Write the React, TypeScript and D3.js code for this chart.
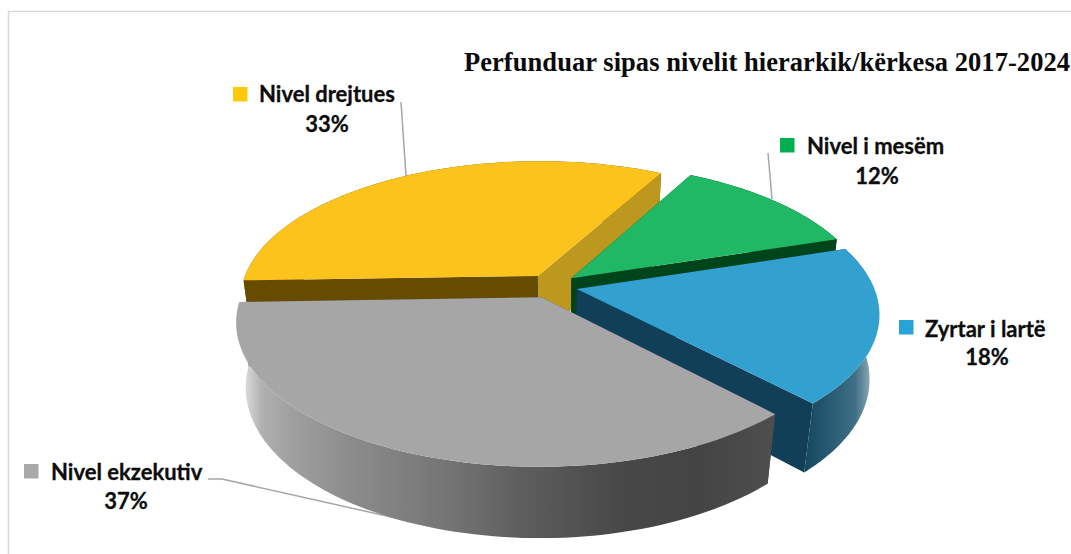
import React from "react";
import * as d3 from "d3";

const W = 1071;
const H = 554;

const categories = ["Nivel drejtues", "Nivel i mesëm", "Zyrtar i lartë", "Nivel ekzekutiv"];
const shares = [33.4, 12.2, 17.9, 36.5];
const topColors = ["#fcc31d", "#20b864", "#32a1cf", "#a6a6a6"];
const swatchColors = ["#ffc90b", "#00b050", "#27a3d8", "#a9a9a9"];
const cutColors = ["#664b00", "#00441c", "#103f57", "#4a4a4a"];
const sideCutColors = ["#bc981f", "#00441c", "#103f57", "#4a4a4a"];
const title = "Perfunduar sipas nivelit hierarkik/kërkesa 2017-2024";

// camera
const CX = 551.5, CY = 286, R = 296.5, RY = 137, KV = 0.167, KH = 0.03, DEPTH = 66, EXPLODE = 0.088;
const START = (268.1 * Math.PI) / 180;

type Pt = [number, number];
function project(u: number, v: number, h: number): Pt {
  const w = 1 - KV * v + KH * h;
  return [CX + (R * u) / w, CY + (RY * v + DEPTH * h) / w];
}

const slices = d3
  .pie<number>()
  .sort(null)
  .startAngle(START)
  .endAngle(START + 2 * Math.PI)(shares);

const line = d3.line<Pt>();

function sliceGeom(a0: number, a1: number) {
  const mid = (a0 + a1) / 2;
  const ou = EXPLODE * Math.sin(mid);
  const ov = -EXPLODE * Math.cos(mid);
  const rim = (a: number, h: number) => project(ou + Math.sin(a), ov - Math.cos(a), h);
  const apex = (h: number) => project(ou, ov, h);
  const angs = d3.range(0, 81).map((i) => a0 + ((a1 - a0) * i) / 80);
  const top = line([apex(0), ...angs.map((a) => rim(a, 0))])! + "Z";
  const outer =
    line([...angs.map((a) => rim(a, 0)), ...angs.slice().reverse().map((a) => rim(a, 1))])! + "Z";
  const cut = (a: number) => line([apex(0), rim(a, 0), rim(a, 1), apex(1)])! + "Z";
  return { top, outer, cutStart: cut(a0), cutEnd: cut(a1), back: Math.cos(mid) > 0 };
}

const geoms = slices.map((s) => sliceGeom(s.startAngle, s.endAngle));

type Stop = [number, string];
const grayWall: Stop[] = [
  [236, "#ffffff"],
  [246, "#d8d8d8"],
  [262, "#b0b0b0"],
  [290, "#a0a0a0"],
  [350, "#8c8c8c"],
  [450, "#747474"],
  [520, "#5e5e5e"],
  [620, "#484848"],
  [700, "#444444"],
  [772, "#4e4e4e"],
];
const blueWall: Stop[] = [
  [804, "#14475f"],
  [830, "#285a72"],
  [855, "#3f6f86"],
  [868, "#7f9fae"],
  [878, "#ffffff"],
];
const yellowWall: Stop[] = [[240, "#664b00"], [700, "#664b00"]];
const greenWall: Stop[] = [[690, "#00441c"], [840, "#00441c"]];
const wallStops = [yellowWall, greenWall, blueWall, grayWall];

const labelFont = "Lato, Carlito, sans-serif";

const swatches = [
  { x: 233, y: 87 },
  { x: 780, y: 138 },
  { x: 899, y: 320 },
  { x: 24, y: 464 },
];
const nameAnchors = [
  { x: 259, y: 101.5 },
  { x: 807, y: 153.5 },
  { x: 925, y: 336.5 },
  { x: 51, y: 479.5 },
];
const pctAnchors = [
  { x: 327, y: 132 },
  { x: 877, y: 184 },
  { x: 987, y: 365 },
  { x: 126, y: 509 },
];
const leaders: Pt[][] = [
  [[401, 102], [406, 176]],
  [[768, 153], [772, 199]],
  [],
  [[208, 479], [222, 479], [400, 519]],
];

export default function App() {
  return (
    <svg
      width={W}
      height={H}
      viewBox={`0 0 ${W} ${H}`}
      style={{ position: "absolute", left: 0, top: 0, background: "#fff" }}
    >
      <defs>
        {wallStops.map((stops, i) => {
          const x0 = stops[0][0];
          const x1 = stops[stops.length - 1][0];
          return (
            <linearGradient
              key={i}
              id={`wall${i}`}
              gradientUnits="userSpaceOnUse"
              x1={x0}
              x2={x1}
              y1={0}
              y2={0}
            >
              {stops.map((s, j) => (
                <stop key={j} offset={(s[0] - x0) / (x1 - x0)} stopColor={s[1]} />
              ))}
            </linearGradient>
          );
        })}
      </defs>
      <path d="M8 11.5H1071M8.5 11V554" fill="none" stroke="#d9d9d9" strokeWidth={1.5} />

      {leaders.map((l, i) =>
        l.length ? (
          <path key={i} d={line(l)!} fill="none" stroke="#a6a6a6" strokeWidth={1.5} />
        ) : null
      )}

      {geoms.map((g, i) => (
        <g key={i}>
          {g.back && <path d={g.outer} fill={`url(#wall${i})`} />}
          <path d={g.cutStart} fill={cutColors[i]} />
          <path d={g.cutEnd} fill={sideCutColors[i]} />
          {!g.back && <path d={g.outer} fill={`url(#wall${i})`} />}
          <path d={g.top} fill={topColors[i]} />
        </g>
      ))}

      <text
        x={464}
        y={71}
        fontFamily="'Liberation Serif', serif"
        fontWeight="bold"
        fontSize={26.5}
        textLength={606}
        lengthAdjust="spacing"
        fill="#0a0a0a"
      >
        {title}
      </text>

      {categories.map((c, i) => (
        <g key={c}>
          <rect x={swatches[i].x} y={swatches[i].y} width={14.5} height={14.5} fill={swatchColors[i]} />
          <text
            x={nameAnchors[i].x}
            y={nameAnchors[i].y}
            fontFamily={labelFont}
            fontWeight="bold"
            fontSize={22}
            stroke="#0d0d0d"
            strokeWidth={0.3}
            fill="#0d0d0d"
          >
            {c}
          </text>
          <text
            x={pctAnchors[i].x}
            y={pctAnchors[i].y}
            textAnchor="middle"
            fontFamily={labelFont}
            fontWeight="bold"
            fontSize={22}
            stroke="#0d0d0d"
            strokeWidth={0.3}
            fill="#0d0d0d"
          >
            {`${Math.round(shares[i])}%`}
          </text>
        </g>
      ))}
    </svg>
  );
}
